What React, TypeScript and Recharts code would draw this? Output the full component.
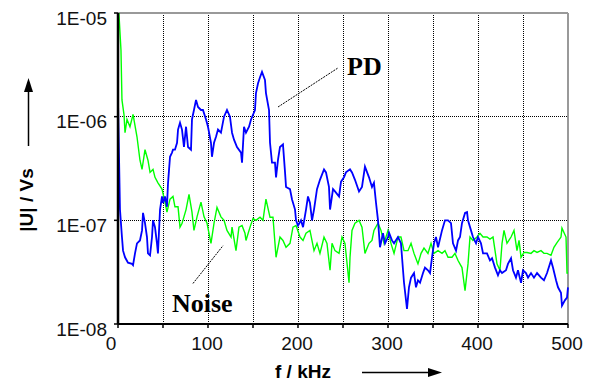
import { CartesianGrid, Line, LineChart, ReferenceLine, XAxis, YAxis } from "recharts";

// frequency in kHz, amplitude in V·s
const noiseKHz = [
  1, 3.3, 4.4, 6.7, 7.8, 10, 13.3, 16.7, 21.1, 24.4, 26.7, 30, 33.3, 35.6, 38.9, 41.1, 44.4, 48.9, 52.2, 54.4,
  57.8, 61.1, 63.3, 66.7, 68.9, 71.1, 75.6, 78.9, 82.2, 84.4, 87.8, 92.2, 95.6, 98.9, 103.3, 106.7, 110, 114.4,
  117.8, 121.1, 125.6, 126.7, 131.1, 134.4, 137.8, 141.1, 142.2, 146.7, 150, 153.3, 157.8, 161.1, 164.4, 168.9,
  172.2, 175.6, 180, 183.3, 186.7, 191.1, 194.4, 197.8, 202.2, 205.6, 208.9, 213.3, 217.8, 221.1, 224.4, 228.9,
  232.2, 235.6, 237.8, 241.1, 245.6, 248.9, 252.2, 256.7, 257.8, 260, 263.3, 267.8, 271.1, 274.4, 278.9, 282.2,
  284.4, 288.9, 292.2, 295.6, 300, 303.3, 306.7, 311.1, 314.4, 317.8, 322.2, 325.6, 328.9, 333.3, 336.7, 340,
  344.4, 347.8, 351.1, 355.6, 360, 363.3, 366.7, 371.1, 374.4, 377.8, 382.2, 385.6, 388.9, 391.1, 394.4, 398.9,
  402.2, 405.6, 410, 413.3, 416.7, 421.1, 424.4, 426.7, 428.9, 432.2, 436.7, 440, 443.3, 445.6, 447.8, 451.1,
  454.4, 458.9, 462.2, 465.6, 470, 473.3, 476.7, 481.1, 484.4, 487.8, 492.2, 493.3, 497.8, 498.9, 500,
];
const noiseVs = [
  1e-5, 4.4e-6, 1.45e-6, 1.04e-6, 7.0e-7, 9.4e-7, 8.0e-7, 1.05e-6, 6.4e-7, 3.8e-7, 3.1e-7, 4.8e-7, 3.8e-7, 2.9e-7,
  3.1e-7, 2.6e-7, 2.3e-7, 2.0e-7, 1.5e-7, 1.2e-7, 1.6e-7, 1.7e-7, 1.35e-7, 1.35e-7, 8.6e-8, 9.3e-8, 1.27e-7,
  1.78e-7, 1.2e-7, 8.0e-8, 1.08e-7, 1.5e-7, 1.08e-7, 9.4e-8, 6.0e-8, 9.4e-8, 1.33e-7, 1.08e-7, 1.0e-7, 8.0e-8,
  6.9e-8, 8.6e-8, 5.1e-8, 8.6e-8, 8.9e-8, 7.5e-8, 6.4e-8, 8.6e-8, 1.04e-7, 1.0e-7, 1.07e-7, 1.0e-7, 1.6e-7,
  1.07e-7, 1.07e-7, 4.4e-8, 6.9e-8, 6.4e-8, 5.5e-8, 6.0e-8, 8.6e-8, 8.9e-8, 6.9e-8, 6.4e-8, 7.5e-8, 8.0e-8,
  5.1e-8, 6.0e-8, 4.8e-8, 6.9e-8, 6.0e-8, 3.3e-8, 6.0e-8, 5.1e-8, 4.8e-8, 6.9e-8, 6.0e-8, 2.5e-8, 4.4e-8, 8.0e-8,
  9.4e-8, 1.0e-7, 8.6e-8, 4.8e-8, 6.0e-8, 6.4e-8, 8.0e-8, 9.4e-8, 8.0e-8, 6.0e-8, 8.0e-8, 6.0e-8, 4.8e-8, 6.9e-8,
  6.9e-8, 5.1e-8, 5.1e-8, 6.0e-8, 4.8e-8, 3.8e-8, 4.8e-8, 5.4e-8, 4.8e-8, 6.0e-8, 4.8e-8, 5.1e-8, 4.8e-8, 5.1e-8,
  4.4e-8, 4.4e-8, 4.8e-8, 4.1e-8, 3.5e-8, 2.1e-8, 3.8e-8, 6.9e-8, 6.4e-8, 6.9e-8, 7.5e-8, 6.9e-8, 6.9e-8, 6.6e-8,
  6.9e-8, 3.8e-8, 3.3e-8, 6.0e-8, 8.0e-8, 6.0e-8, 6.9e-8, 8.0e-8, 5.1e-8, 6.4e-8, 4.4e-8, 4.9e-8, 4.9e-8, 4.8e-8,
  5.1e-8, 4.9e-8, 5.1e-8, 4.8e-8, 4.8e-8, 4.6e-8, 5.5e-8, 6.1e-8, 6.9e-8, 8.4e-8, 6.9e-8, 3.1e-8, 3.1e-8,
];

const pdKHz = [
  0, 2.2, 4.4, 5.6, 7.8, 11.1, 15.6, 16.7, 18.9, 21.1, 24.4, 26.7, 27.8, 30, 32.2, 33.3, 35.6, 37.8, 38.9, 41.1,
  43.3, 44.4, 46.7, 48.9, 50, 52.2, 54.4, 55.6, 57.8, 60, 61.1, 63.3, 65.6, 66.7, 68.9, 71.1, 73.3, 75.6, 77.8,
  81.1, 82.2, 84.4, 86.7, 88.9, 92.2, 94.4, 97.8, 100, 103.3, 104.4, 106.7, 108.9, 111.1, 114.4, 117.8, 121.1,
  124.4, 126.7, 128.9, 132.2, 136.7, 137.8, 140, 142.2, 145.6, 147.8, 152.2, 153.3, 155.6, 157.8, 160, 163.3,
  164.4, 167.8, 168.9, 171.1, 174.4, 175.6, 177.8, 180, 183.3, 185.6, 186.7, 191.1, 193.3, 196.7, 197.8, 200,
  203.3, 205.6, 208.9, 211.1, 213.3, 215.6, 217.8, 221.1, 224.4, 228.9, 231.1, 234.4, 235.6, 238.9, 241.1, 245.6,
  247.8, 251.1, 253.3, 257.8, 260, 263.3, 267.8, 271.1, 274.4, 278.9, 282.2, 284.4, 286.7, 288.9, 291.1, 294.4,
  296.7, 300, 301.1, 304.4, 306.7, 311.1, 314.4, 316.7, 317.8, 321.1, 323.3, 325.6, 328.9, 331.1, 333.3, 335.6,
  338.9, 341.1, 344.4, 346.7, 348.9, 351.1, 353.3, 355.6, 360, 363.3, 366.7, 370, 372.2, 375.6, 377.8, 380, 382.2,
  385.6, 387.8, 388.9, 392.2, 394.4, 397.8, 400, 403.3, 405.6, 410, 413.3, 415.6, 418.9, 422.2, 424.4, 426.7,
  431.1, 433.3, 436.7, 438.9, 442.2, 444.4, 447.8, 450, 453.3, 455.6, 458.9, 462.2, 465.6, 470, 473.3, 476.7,
  481.1, 483.3, 486.7, 488.9, 492.2, 493.3, 496.7, 498.9, 500,
];
const pdVs = [
  1.45e-6, 1.27e-7, 6.9e-8, 5.1e-8, 4.4e-8, 3.9e-8, 3.8e-8, 3.7e-8, 4.8e-8, 6.0e-8, 6.4e-8, 8.0e-8, 1.18e-7,
  9.4e-8, 6.9e-8, 4.8e-8, 4.6e-8, 6.9e-8, 1.0e-7, 8.6e-8, 6.0e-8, 4.8e-8, 1.27e-7, 1.7e-7, 1.47e-7, 1.7e-7,
  1.35e-7, 2.3e-7, 4.1e-7, 4.5e-7, 4.8e-7, 4.8e-7, 5.6e-7, 7.5e-7, 8.75e-7, 7.5e-7, 5.1e-7, 8.0e-7, 5.1e-7,
  4.8e-7, 9.4e-7, 1.16e-6, 1.45e-6, 1.24e-6, 1.16e-6, 1.16e-6, 9.4e-7, 8.0e-7, 5.6e-7, 4.1e-7, 5.6e-7, 6.4e-7,
  7.5e-7, 7.0e-7, 1.0e-6, 1.16e-6, 1.0e-6, 7.0e-7, 6.0e-7, 5.1e-7, 4.5e-7, 3.6e-7, 8.0e-7, 7.0e-7, 8.0e-7,
  9.4e-7, 1.16e-6, 1.69e-6, 2.1e-6, 2.4e-6, 2.7e-6, 2.26e-6, 1.69e-6, 1.16e-6, 5.6e-7, 3.6e-7, 3.6e-7, 2.6e-7,
  3.85e-7, 5.1e-7, 5.4e-7, 2.9e-7, 2.1e-7, 2.0e-7, 1.6e-7, 1.27e-7, 1.0e-7, 8.9e-8, 1.0e-7, 8.6e-8, 1.27e-7,
  1.7e-7, 1.47e-7, 1.0e-7, 1.27e-7, 2.0e-7, 2.46e-7, 3.1e-7, 2.9e-7, 2.1e-7, 1.27e-7, 2.0e-7, 1.9e-7, 1.7e-7,
  2.36e-7, 2.6e-7, 2.9e-7, 3.1e-7, 2.9e-7, 2.46e-7, 1.9e-7, 2.1e-7, 3.3e-7, 2.6e-7, 2.1e-7, 2.3e-7, 1.47e-7,
  1.0e-7, 5.5e-8, 7.5e-8, 6.0e-8, 6.9e-8, 7.6e-8, 6.4e-8, 6.0e-8, 6.9e-8, 6.0e-8, 3.3e-8, 2.5e-8, 1.4e-8,
  2.26e-8, 2.8e-8, 3.1e-8, 2.26e-8, 2.64e-8, 2.5e-8, 3.1e-8, 3.5e-8, 3.3e-8, 3.1e-8, 4.4e-8, 6.0e-8, 6.9e-8,
  5.5e-8, 8.0e-8, 1.0e-7, 1.0e-7, 9.4e-8, 6.0e-8, 5.1e-8, 6.4e-8, 6.9e-8, 9.4e-8, 1.18e-7, 1.2e-7, 1.0e-7,
  8.0e-8, 6.9e-8, 6.0e-8, 6.9e-8, 6.0e-8, 4.8e-8, 4.8e-8, 4.1e-8, 4.3e-8, 3.5e-8, 2.95e-8, 3.3e-8, 3.1e-8,
  3.3e-8, 3.8e-8, 4.3e-8, 3.3e-8, 2.8e-8, 3.3e-8, 2.5e-8, 3.3e-8, 3.1e-8, 2.8e-8, 3.1e-8, 2.8e-8, 3.1e-8,
  2.8e-8, 2.64e-8, 3.1e-8, 4.1e-8, 3.5e-8, 2.64e-8, 2.26e-8, 2.0e-8, 1.5e-8, 1.7e-8, 1.8e-8, 2.26e-8,
];

const xTicks = [0, 50, 100, 150, 200, 250, 300, 350, 400, 450, 500];
const yTicks = [1e-8, 1e-7, 1e-6, 1e-5];

const noiseData = noiseKHz.map((f, i) => ({ f, v: noiseVs[i] }));
const pdData = pdKHz.map((f, i) => ({ f, v: pdVs[i] }));

const FONT = "'Liberation Sans', Arial, sans-serif";
const SERIF = "'Liberation Serif', 'Times New Roman', serif";

const fmtExp = (v: number) => {
  const e = Math.round(Math.log10(v));
  return `1E-${String(-e).padStart(2, "0")}`;
};

const XTick = ({ x, y, payload }: any) => {
  if (payload.value % 100 !== 0) return null;
  const shift = payload.value === 0 ? -7 : -1;
  return (
    <text x={x + shift} y={y} dy="0.71em" textAnchor="middle" fontSize={19} fontFamily={FONT} fill="#111">
      {payload.value}
    </text>
  );
};

const YTick = ({ x, y, payload }: any) => (
  <text x={x} y={y + 5} dy="0.355em" textAnchor="end" fontSize={19} fontFamily={FONT} fill="#111">
    {fmtExp(payload.value)}
  </text>
);

export default function App() {
  return (
    <div style={{ position: "relative", width: 597, height: 381, background: "#fff" }}>
      <style>{`body{margin:0}`}</style>
      <LineChart width={597} height={381} margin={{ top: 13, right: 29, bottom: 0, left: 0 }}>
        <CartesianGrid stroke="#000" strokeDasharray="1 1" shapeRendering="crispEdges" />
        <XAxis
          type="number"
          dataKey="f"
          domain={[0, 500]}
          ticks={xTicks}
          height={57}
          tickSize={4}
          tickMargin={9}
          tick={<XTick />}
          axisLine={{ stroke: "#000", strokeWidth: 2 }}
          tickLine={{ stroke: "#000", strokeWidth: 1.5 }}
          allowDuplicatedCategory={false}
        />
        <YAxis
          scale="log"
          domain={[1e-8, 1e-5]}
          ticks={yTicks}
          allowDataOverflow
          width={118}
          tickSize={4}
          tickMargin={7}
          tick={<YTick />}
          axisLine={{ stroke: "#000", strokeWidth: 2.5 }}
          tickLine={{ stroke: "#000", strokeWidth: 1.5 }}
        />
        <ReferenceLine y={1e-5} stroke="#999" strokeWidth={2} />
        <ReferenceLine x={500} stroke="#999" strokeWidth={2} />
        <Line data={noiseData} dataKey="v" type="linear" stroke="#00ff00" strokeWidth={1.4} dot={false} isAnimationActive={false} />
        <Line data={pdData} dataKey="v" type="linear" stroke="#0000ff" strokeWidth={1.8} dot={false} isAnimationActive={false} />
        <ReferenceLine
          segment={[{ x: 177.8, y: 1.24e-6 }, { x: 244.4, y: 2.95e-6 }]}
          stroke="#000"
          strokeDasharray="2 1"
        />
        <ReferenceLine
          segment={[{ x: 83.3, y: 2.46e-8 }, { x: 116.7, y: 5.7e-8 }]}
          stroke="#000"
          strokeDasharray="2 1"
        />
      </LineChart>
      <svg width={597} height={381} style={{ position: "absolute", left: 0, top: 0, pointerEvents: "none" }}>
        <text x={347} y={75} fontFamily={SERIF} fontWeight="bold" fontSize={26} fill="#000">PD</text>
        <text x={172} y={312} fontFamily={SERIF} fontWeight="bold" fontSize={26} fill="#000">Noise</text>
        <text
          transform="translate(33,200) rotate(-90)"
          textAnchor="middle"
          fontFamily={FONT}
          fontWeight="bold"
          fontSize={19}
          fill="#000"
        >
          |U| / Vs
        </text>
        <line x1={28.5} y1={146} x2={28.5} y2={90} stroke="#000" strokeWidth={1.5} />
        <polygon points="28.5,78 24,92 33,92" fill="#000" />
        <text x={275} y={378} fontFamily={FONT} fontWeight="bold" fontSize={19} fill="#000">f / kHz</text>
        <line x1={362} y1={372.5} x2={430} y2={372.5} stroke="#000" strokeWidth={1.5} />
        <polygon points="442,372.5 428,368 428,377" fill="#000" />
      </svg>
    </div>
  );
}
